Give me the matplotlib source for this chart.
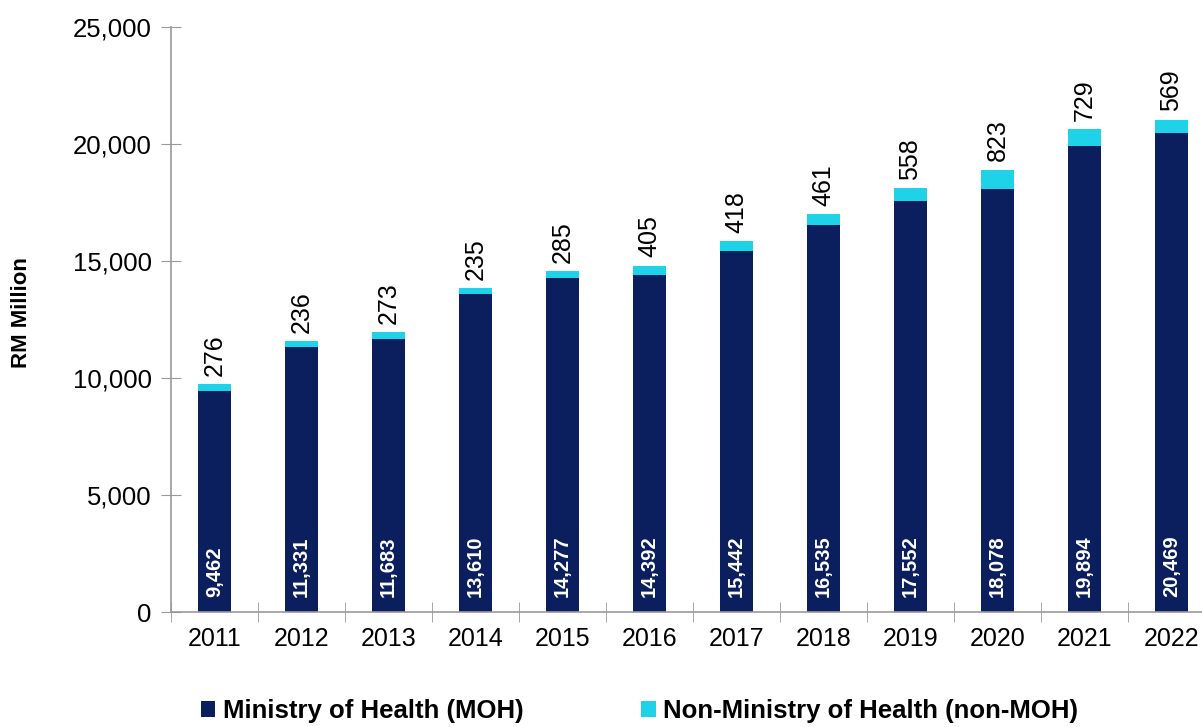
import matplotlib.pyplot as plt
from matplotlib.ticker import FuncFormatter, FixedLocator

# Данные
years = ['2011', '2012', '2013', '2014', '2015', '2016',
         '2017', '2018', '2019', '2020', '2021', '2022']
moh = [9462, 11331, 11683, 13610, 14277, 14392,
       15442, 16535, 17552, 18078, 19894, 20469]
non_moh = [276, 236, 273, 235, 285, 405,
           418, 461, 558, 823, 729, 569]

navy = '#0B1F5E'
cyan = '#1ED2E8'

plt.rcParams['font.family'] = ['Liberation Sans', 'DejaVu Sans']

fig = plt.figure(figsize=(12.02, 7.27), dpi=100)
ax = fig.add_axes([171 / 1202, 1 - 612 / 727, 1044 / 1202, (612 - 27) / 727])

x = list(range(len(years)))
b1 = ax.bar(x, moh, width=0.39, color=navy, label='Ministry of Health (MOH)')
b2 = ax.bar(x, non_moh, width=0.39, bottom=moh, color=cyan,
            label='Non-Ministry of Health (non-MOH)')

# Подписи значений
for i in x:
    ax.annotate(f'{moh[i]:,}', (i, 0), xytext=(0, 11), textcoords='offset points',
                ha='center', va='bottom', rotation=90, color='white',
                fontsize=14.5, fontweight='bold',
                family=['Liberation Sans Narrow', 'Liberation Sans'])
    ax.annotate(f'{non_moh[i]}', (i, moh[i] + non_moh[i]), xytext=(0, 6),
                textcoords='offset points', ha='center', va='bottom',
                rotation=90, fontsize=18, color='black')

ax.set_xlim(-0.5, len(years) - 0.5)
ax.set_ylim(0, 25000)
ax.set_yticks(range(0, 25001, 5000))
ax.yaxis.set_major_formatter(FuncFormatter(lambda v, p: f'{int(v):,}'))
ax.set_xticks(x)
ax.set_xticklabels(years)
ax.xaxis.set_minor_locator(FixedLocator([i - 0.5 for i in range(len(years) + 1)]))
ax.tick_params(axis='x', which='major', length=0, labelsize=18, pad=11)
ax.tick_params(axis='x', which='minor', direction='inout', length=14, color='#999999')
ax.tick_params(axis='y', direction='inout', length=14, color='#999999',
               labelsize=18.5, pad=7)

for s in ['top', 'right']:
    ax.spines[s].set_visible(False)
for s in ['left', 'bottom']:
    ax.spines[s].set_color('#999999')
    ax.spines[s].set_linewidth(1.2)

fig.text(22 / 1202, 1 - 313 / 727, 'RM Million', rotation=90, ha='center',
         va='center', fontsize=16, fontweight='bold')

fig.legend(handles=[b1, b2], loc='center', bbox_to_anchor=(0.532, 0.022),
           ncol=2, frameon=False, handlelength=0.55, handleheight=0.55,
           handletextpad=0.3, columnspacing=4.6, borderpad=0.1,
           prop={'weight': 'bold', 'size': 18.5})

plt.savefig('out.png', dpi=100)
